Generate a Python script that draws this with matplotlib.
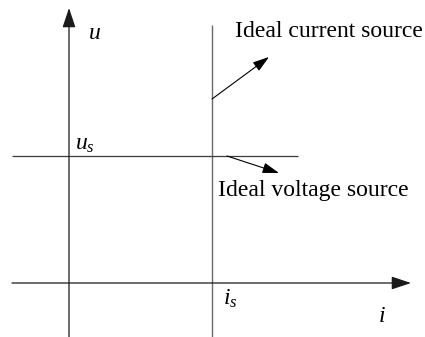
import matplotlib
matplotlib.use("Agg")
import matplotlib.pyplot as plt

plt.rcParams['font.family'] = ['Liberation Serif', 'DejaVu Serif']
plt.rcParams['mathtext.fontset'] = 'custom'
plt.rcParams['mathtext.rm'] = 'Liberation Serif'
plt.rcParams['mathtext.it'] = 'Liberation Serif:italic'

# Diagram quantities (in chart units; origin at the axes crossing)
i_s = 143          # ideal current source value
u_s = 127          # ideal voltage source value
i_range = [-57, 342]   # horizontal axis extent (arrow tip at the end)
u_range = [-54, 275]   # vertical axis extent (arrow tip at the end)
current_line_u = [-54, 258]
voltage_line_i = [-57, 229]
current_pointer = [(143, 184), (200, 226)]
voltage_pointer = [(158, 127), (210, 110)]
labels = {
    "current": "Ideal current source",
    "voltage": "Ideal voltage source",
}

fig = plt.figure(figsize=(4.25, 3.37), dpi=100)
ax = fig.add_axes([0, 0, 1, 1])
ax.set_xlim(-69, 356)
ax.set_ylim(-54, 283)
ax.axis('off')

axis_col = '#1a1a1a'
lw = 0.9

# axes with arrows
ax.annotate('', xy=(i_range[1], 0), xytext=(i_range[0], 0),
            arrowprops=dict(arrowstyle='-|>,head_length=1.2,head_width=0.4',
                            mutation_scale=10, lw=lw, color=axis_col,
                            shrinkA=0, shrinkB=0))
ax.annotate('', xy=(0, u_range[1]), xytext=(0, u_range[0]),
            arrowprops=dict(arrowstyle='-|>,head_length=1.2,head_width=0.4',
                            mutation_scale=10, lw=lw, color=axis_col,
                            shrinkA=0, shrinkB=0))

# source characteristics
ax.plot([i_s, i_s], current_line_u, color='#6a6a6a', lw=1.0, solid_capstyle='butt')
ax.plot(voltage_line_i, [u_s, u_s], color='#3a3a3a', lw=lw, solid_capstyle='butt')

# pointers
for (p0, p1) in (current_pointer, voltage_pointer):
    ax.annotate('', xy=p1, xytext=p0,
                arrowprops=dict(arrowstyle='-|>,head_length=1.0,head_width=0.32',
                                mutation_scale=10, lw=0.8, color='black',
                                shrinkA=0, shrinkB=0))

fs = 17
ax.text(166, 246, labels["current"], fontsize=fs, ha='left', va='baseline')
ax.text(149, 87, labels["voltage"], fontsize=fs, ha='left', va='baseline')
ax.text(19, 244, r'$u$', fontsize=fs, ha='left', va='baseline')
ax.text(6, 133, r'$u_s$', fontsize=fs, ha='left', va='baseline')
ax.text(154, -22, r'$i_s$', fontsize=fs, ha='left', va='baseline')
ax.text(309, -39, r'$i$', fontsize=fs, ha='left', va='baseline')

fig.savefig('out.png', dpi=100, facecolor='white')
